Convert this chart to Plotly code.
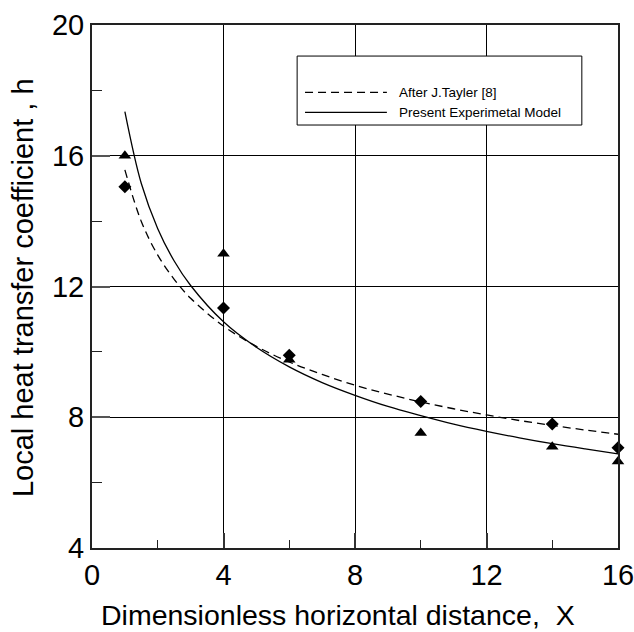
import plotly.graph_objects as go

# Measured data points
x_pts = [1, 4, 6, 10, 14, 16]
h_triangle = [16.0, 13.0, 9.76, 7.52, 7.1, 6.65]
h_diamond = [15.05, 11.34, 9.9, 8.48, 7.79, 7.07]

# Curves
x_curve = [1, 1.5, 2, 2.5, 3, 4, 5, 6, 7, 8, 9, 10, 11, 12, 13, 14, 15, 16]
h_present = [17.35, 15.15, 13.77, 12.78, 12.03, 10.92, 10.14, 9.54, 9.06, 8.67,
             8.33, 8.05, 7.79, 7.57, 7.37, 7.19, 7.03, 6.88]
h_tayler = [15.57, 13.99, 12.96, 12.22, 11.64, 10.79, 10.17, 9.69, 9.31, 8.98,
            8.71, 8.47, 8.26, 8.07, 7.90, 7.75, 7.61, 7.48]

legend_labels = ["After J.Tayler [8]", "Present Experimetal Model"]
x_title = "Dimensionless horizontal distance,  X"
y_title = "Local heat transfer coefficient , h"

x_ticks = [0, 4, 8, 12, 16]
y_ticks = [4, 8, 12, 16, 20]

FONT = "Liberation Sans, Arial, sans-serif"

fig = go.Figure()
fig.add_trace(go.Scatter(x=x_curve, y=h_tayler, mode="lines", line_shape="spline",
                         line=dict(color="black", width=1.3, dash="8px,5px"),
                         name=legend_labels[0], showlegend=False))
fig.add_trace(go.Scatter(x=x_curve, y=h_present, mode="lines", line_shape="spline",
                         line=dict(color="black", width=1.3),
                         name=legend_labels[1], showlegend=False))
fig.add_trace(go.Scatter(x=x_pts, y=h_triangle, mode="markers",
                         marker=dict(symbol="triangle-up", size=11, color="black"),
                         showlegend=False, cliponaxis=False))
fig.add_trace(go.Scatter(x=x_pts, y=h_diamond, mode="markers",
                         marker=dict(symbol="diamond", size=10, color="black"),
                         showlegend=False, cliponaxis=False))

# Manual legend box
fig.add_shape(type="rect", xref="x", yref="y", x0=6.24, x1=14.9, y0=16.94, y1=19.05,
              line=dict(color="black", width=1), fillcolor="white", layer="above")
fig.add_shape(type="line", xref="x", yref="y", x0=6.48, x1=8.97, y0=17.94, y1=17.94,
              line=dict(color="black", width=1.2, dash="8px,5px"), layer="above")
fig.add_shape(type="line", xref="x", yref="y", x0=6.48, x1=8.97, y0=17.33, y1=17.33,
              line=dict(color="black", width=1.2), layer="above")
for lbl, yy in zip(legend_labels, [17.94, 17.33]):
    fig.add_annotation(x=9.28, y=yy, xref="x", yref="y", text=lbl, showarrow=False,
                       xanchor="left", yanchor="middle",
                       font=dict(family=FONT, size=13.5, color="black"))

# Axis titles
fig.add_annotation(x=0.4677, y=-0.129, xref="paper", yref="paper", text=x_title,
                   showarrow=False, xanchor="center", yanchor="middle", borderpad=0,
                   font=dict(family=FONT, size=28.5, color="black"))
fig.add_annotation(x=-0.1321, y=0.498, xref="paper", yref="paper", text=y_title,
                   showarrow=False, xanchor="center", yanchor="middle", textangle=-90,
                   font=dict(family=FONT, size=29, color="black"))

fig.update_layout(
    width=634, height=632, autosize=False,
    margin=dict(l=92, r=16, t=25, b=84, autoexpand=False),
    paper_bgcolor="white", plot_bgcolor="white",
    font=dict(family=FONT, color="black"),
    showlegend=False,
    xaxis=dict(range=[0, 16], tickvals=x_ticks, ticktext=[str(v) for v in x_ticks],
               showgrid=True, gridcolor="black", gridwidth=1,
               showline=True, linecolor="#222", linewidth=2, mirror=True,
               ticks="inside", ticklen=15, tickwidth=2, tickcolor="#333",
               minor=dict(dtick=2, ticks="inside", ticklen=8, tickwidth=1, tickcolor="#222",
                          showgrid=False),
               tickfont=dict(size=29, family=FONT), zeroline=False,
               ticklabeloverflow="allow", automargin=False),
    yaxis=dict(range=[4, 20], tickvals=y_ticks, ticktext=[str(v) for v in y_ticks],
               showgrid=True, gridcolor="black", gridwidth=1,
               showline=True, linecolor="#222", linewidth=2, mirror=True,
               ticks="inside", ticklen=18, tickwidth=2, tickcolor="#555",
               minor=dict(dtick=2, ticks="inside", ticklen=10, tickwidth=1, tickcolor="#222",
                          showgrid=False),
               tickfont=dict(size=29, family=FONT), zeroline=False,
               ticklabeloverflow="allow", automargin=False),
)

fig.write_html("out.html", config={"displayModeBar": False, "responsive": False},
               post_script="document.body.style.margin='0';document.body.style.padding='0';"
                           "document.body.style.overflow='hidden';")
